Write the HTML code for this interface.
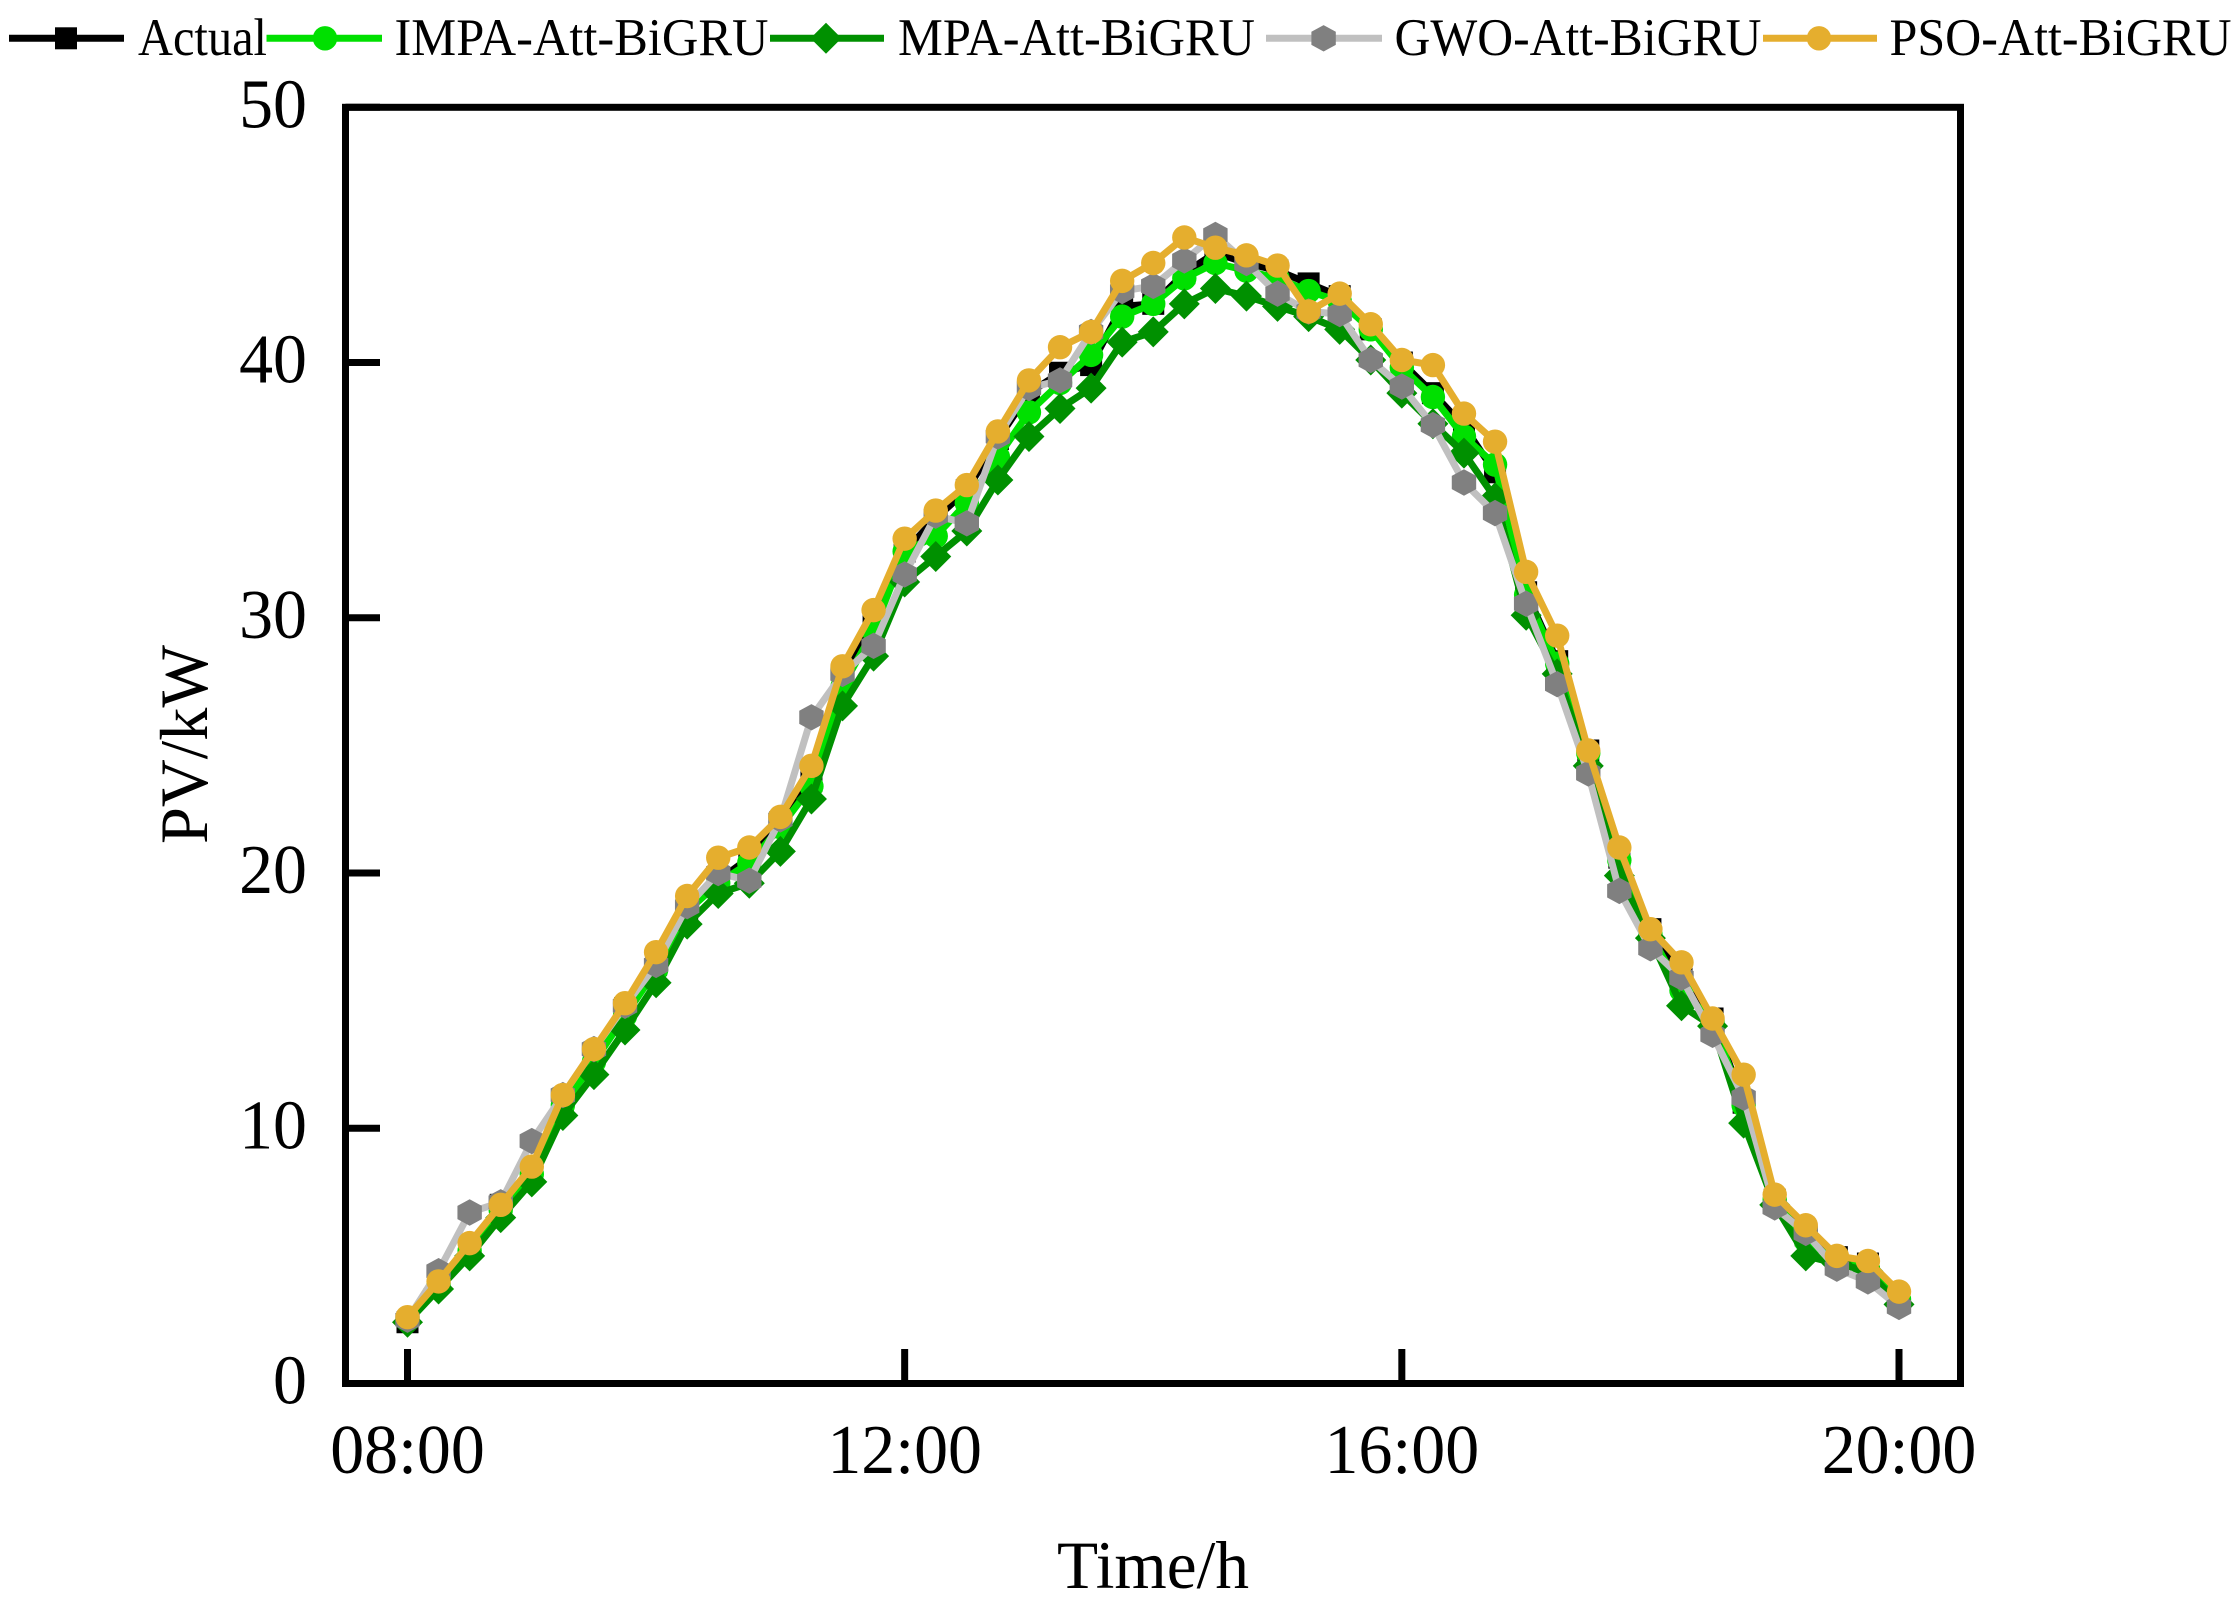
<!DOCTYPE html>
<html lang="en">
<head>
<meta charset="utf-8">
<title>PV power forecast comparison</title>
<style>
html,body{margin:0;padding:0;background:#fff;width:2240px;height:1599px;overflow:hidden}
svg{display:block}
text{font-family:"Liberation Serif",serif;fill:#000}
</style>
</head>
<body>
<svg id="chart" xmlns="http://www.w3.org/2000/svg" width="2240" height="1599" viewBox="0 0 2240 1599">
<rect x="0" y="0" width="2240" height="1599" fill="#fff"/>
<g id="series-layer"></g>
<rect x="345.5" y="107.3" width="1615" height="1276.2" fill="none" stroke="#000" stroke-width="7"/>
<g id="axis-layer"></g>
<text x="1057" y="1588" font-size="68" textLength="192" lengthAdjust="spacingAndGlyphs">Time/h</text>
<text transform="translate(207,844) rotate(-90)" font-size="68" textLength="199" lengthAdjust="spacingAndGlyphs">PV/kW</text>
<g id="legend-layer"></g>
</svg>
<script>
const timeLabels = ["08:00","08:15","08:30","08:45","09:00","09:15","09:30","09:45","10:00","10:15","10:30","10:45","11:00","11:15","11:30","11:45","12:00","12:15","12:30","12:45","13:00","13:15","13:30","13:45","14:00","14:15","14:30","14:45","15:00","15:15","15:30","15:45","16:00","16:15","16:30","16:45","17:00","17:15","17:30","17:45","18:00","18:15","18:30","18:45","19:00","19:15","19:30","19:45","20:00"];
const xTickLabels = ["08:00","12:00","16:00","20:00"];
const yTickValues = [0,10,20,30,40,50];
const actualValues = [2.4,4.0,5.3,7.0,8.4,11.1,12.9,14.7,16.4,18.6,19.7,20.6,22.0,23.6,27.8,29.8,32.6,33.9,35.0,37.0,38.8,39.6,39.9,42.2,42.3,43.5,44.3,43.9,43.6,43.1,42.6,41.3,40.0,38.8,37.5,35.7,31.0,28.3,24.8,20.6,17.8,16.0,14.3,11.0,7.2,5.8,4.95,4.7,3.3];
const impaValues = [2.5,3.9,5.2,6.8,8.2,10.9,12.6,14.4,16.2,18.5,19.6,20.4,21.8,23.4,27.3,29.5,32.6,33.2,34.5,36.3,38.05,39.2,40.3,41.8,42.3,43.3,43.9,43.6,43.3,42.8,42.4,41.3,39.8,38.65,37.1,36.0,30.9,28.2,24.7,20.5,17.6,15.4,14.2,10.9,7.2,5.6,4.8,4.5,3.3];
const mpaValues = [2.4,3.7,5.0,6.5,7.9,10.5,12.1,13.85,15.7,18.0,19.2,19.6,20.85,22.9,26.55,28.5,31.4,32.4,33.4,35.4,37.1,38.2,39.0,40.8,41.2,42.3,42.9,42.6,42.2,41.8,41.3,40.1,38.8,37.6,36.45,34.7,30.1,27.8,24.2,19.9,17.45,14.8,14.0,10.2,7.0,5.0,4.7,4.4,3.1];
const gwoValues = [2.5,4.4,6.7,7.1,9.5,11.3,13.1,14.8,16.4,18.7,20.0,19.7,22.1,26.1,27.8,28.9,31.7,34.0,33.7,37.1,39.0,39.3,41.2,42.8,43.0,44.0,45.0,43.9,42.7,42.0,41.9,40.1,39.06,37.55,35.3,34.1,30.55,27.4,23.9,19.3,17.05,15.9,13.66,11.2,6.9,5.9,4.5,4.0,3.0];
const psoValues = [2.6,4.0,5.5,7.0,8.5,11.3,13.1,14.9,16.9,19.1,20.6,21.0,22.2,24.2,28.1,30.3,33.1,34.2,35.2,37.3,39.3,40.6,41.2,43.2,43.9,44.9,44.5,44.2,43.8,42.0,42.7,41.5,40.1,39.9,38.0,36.9,31.8,29.3,24.8,21.0,17.8,16.5,14.3,12.1,7.4,6.2,5.0,4.8,3.6];

const NS = "http://www.w3.org/2000/svg";
function toMinutes(label){
  const parts = label.split(":");
  return Number(parts[0]) * 60 + Number(parts[1]);
}
function xScale(label){
  return 407.5 + (toMinutes(label) - 480) * (1899 - 407.5) / 720;
}
function yScale(v){
  return 1383.5 - v * (1383.5 - 107.3) / 50;
}
function svgEl(tag, attrs, parent){
  const el = document.createElementNS(NS, tag);
  for (const k in attrs) el.setAttribute(k, attrs[k]);
  parent.appendChild(el);
  return el;
}
function markerShape(kind, cx, cy, color, parent){
  if (kind === "square") {
    return svgEl("rect", {x: cx - 11, y: cy - 11, width: 22, height: 22, fill: color}, parent);
  }
  if (kind === "circle") {
    return svgEl("circle", {cx: cx, cy: cy, r: 12.2, fill: color}, parent);
  }
  if (kind === "diamond") {
    const r = 15.5;
    return svgEl("polygon", {points: [[cx, cy - r], [cx + r, cy], [cx, cy + r], [cx - r, cy]].map(p => p.join(",")).join(" "), fill: color}, parent);
  }
  const w = 12.2, h = 13.2;
  return svgEl("polygon", {points: [[cx, cy - h], [cx + w, cy - h / 2], [cx + w, cy + h / 2], [cx, cy + h], [cx - w, cy + h / 2], [cx - w, cy - h / 2]].map(p => p.join(",")).join(" "), fill: color}, parent);
}

const seriesLayer = document.getElementById("series-layer");
const axisLayer = document.getElementById("axis-layer");
const legendLayer = document.getElementById("legend-layer");

const seriesList = [
  {key: "actual", values: actualValues, line: "#000000", mark: "#000000", kind: "square"},
  {key: "impa", values: impaValues, line: "#00E000", mark: "#00E000", kind: "circle"},
  {key: "mpa", values: mpaValues, line: "#009000", mark: "#009000", kind: "diamond"},
  {key: "gwo", values: gwoValues, line: "#C0C0C0", mark: "#808080", kind: "hexagon"},
  {key: "pso", values: psoValues, line: "#E5AE2E", mark: "#E5AE2E", kind: "circle"}
];

seriesList.forEach(function(s){
  const group = svgEl("g", {}, seriesLayer);
  
  
  const pts = s.values.map((v, i) => xScale(timeLabels[i]).toFixed(2) + "," + yScale(v).toFixed(2)).join(" ");
  const line = svgEl("polyline", {points: pts, fill: "none", stroke: s.line, "stroke-width": 7, "stroke-linejoin": "round"}, group);
  
  
  s.values.forEach(function(v, i){
    const m = markerShape(s.kind, xScale(timeLabels[i]), yScale(v), s.mark, group);
    
    
  });
});

yTickValues.forEach(function(v){
  const y = yScale(v);
  const tick = svgEl("line", {x1: 345.5, x2: 380, y1: y, y2: y, stroke: "#000", "stroke-width": 7}, axisLayer);
  
  
  const label = svgEl("text", {transform: "translate(307," + (y + 20) + ") scale(.97,1)", "text-anchor": "end", "font-size": 70}, axisLayer);
  label.textContent = String(v);
  
  
});
xTickLabels.forEach(function(t){
  const x = xScale(t);
  const tick = svgEl("line", {x1: x, x2: x, y1: 1383.5, y2: 1349, stroke: "#000", "stroke-width": 7}, axisLayer);
  
  
  const label = svgEl("text", {transform: "translate(" + x + ",1473) scale(.97,1)", "text-anchor": "middle", "font-size": 70}, axisLayer);
  label.textContent = t;
  
  
});

const legendEntries = [
  {name: "Actual", key: "actual", lx1: 9, lx2: 124, mx: 66, tx: 138, tw: 129, line: "#000000", mark: "#000000", kind: "square"},
  {name: "IMPA-Att-BiGRU", key: "impa", lx1: 266.5, lx2: 382, mx: 325, tx: 394.5, tw: 374, line: "#00E000", mark: "#00E000", kind: "circle"},
  {name: "MPA-Att-BiGRU", key: "mpa", lx1: 770, lx2: 884, mx: 826, tx: 898, tw: 357, line: "#009000", mark: "#009000", kind: "diamond"},
  {name: "GWO-Att-BiGRU", key: "gwo", lx1: 1266, lx2: 1382, mx: 1323.6, tx: 1394.5, tw: 367, line: "#C0C0C0", mark: "#808080", kind: "hexagon"},
  {name: "PSO-Att-BiGRU", key: "pso", lx1: 1763, lx2: 1877, mx: 1819, tx: 1889.5, tw: 342, line: "#E5AE2E", mark: "#E5AE2E", kind: "circle"}
];
legendEntries.forEach(function(e){
  const g = svgEl("g", {}, legendLayer);
  
  
  const l = svgEl("line", {x1: e.lx1, x2: e.lx2, y1: 38.3, y2: 38.3, stroke: e.line, "stroke-width": 7}, g);
  
  
  const m = markerShape(e.kind, e.mx, 38.3, e.mark, g);
  
  
  const t = svgEl("text", {x: e.tx, y: 55, "font-size": 53, textLength: e.tw, lengthAdjust: "spacingAndGlyphs"}, g);
  t.textContent = e.name;
  
  
});
</script>
</body>
</html>
